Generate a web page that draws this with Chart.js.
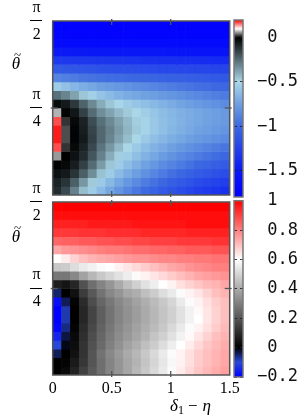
<!DOCTYPE html>
<html>
<head>
<meta charset="utf-8">
<script src="https://cdn.jsdelivr.net/npm/chart.js@4.4.1/dist/chart.umd.min.js"></script>
<style>
  html, body { margin: 0; padding: 0; background: #fff; }
  #wrap { position: relative; width: 306px; height: 419px; }
  #wrap canvas { position: absolute; left: 0; top: 0; }
</style>
</head>
<body>
<div id="wrap">
  <canvas id="heat-top" width="306" height="419"></canvas>
  <canvas id="heat-bot" width="306" height="419"></canvas>
  <canvas id="cb-top" width="306" height="419"></canvas>
  <canvas id="cb-bot" width="306" height="419"></canvas>
</div>
<script>
// --- data ---
// column centres on the δ1 − η axis
const deltaCols = [0.0375, 0.1125, 0.1875, 0.2625, 0.3375, 0.4125, 0.4875, 0.5625, 0.6375, 0.7125,
                   0.7875, 0.8625, 0.9375, 1.0125, 1.0875, 1.1625, 1.2375, 1.3125, 1.3875, 1.4625];
const deltaTicks = [0, 0.5, 1, 1.5];
const thetaTicks = [Math.PI / 4, Math.PI / 2];
const topCbTicks = [0, -0.5, -1, -1.5];
const botCbTicks = [1, 0.8, 0.6, 0.4, 0.2, 0, -0.2];
const topRange = [-1.8, 0.2];
const botRange = [-0.2, 1.0];

// upper map, rows listed from θ = π/2 (top) down to θ = 0
const topMap = [
  [-1.78,-1.78,-1.78,-1.78,-1.78,-1.78,-1.78,-1.78,-1.78,-1.78,-1.78,-1.78,-1.78,-1.78,-1.78,-1.78,-1.78,-1.78,-1.78,-1.78],
  [-1.75,-1.75,-1.75,-1.75,-1.75,-1.75,-1.75,-1.75,-1.75,-1.75,-1.75,-1.75,-1.75,-1.75,-1.75,-1.75,-1.75,-1.75,-1.75,-1.75],
  [-1.68,-1.68,-1.68,-1.68,-1.68,-1.68,-1.68,-1.68,-1.68,-1.68,-1.68,-1.68,-1.68,-1.68,-1.68,-1.68,-1.68,-1.68,-1.68,-1.68],
  [-1.5,-1.5,-1.51,-1.51,-1.52,-1.52,-1.52,-1.53,-1.53,-1.53,-1.54,-1.54,-1.54,-1.55,-1.55,-1.55,-1.56,-1.56,-1.56,-1.57],
  [-1.3,-1.3,-1.31,-1.31,-1.32,-1.32,-1.33,-1.33,-1.34,-1.34,-1.35,-1.35,-1.36,-1.36,-1.37,-1.37,-1.38,-1.38,-1.39,-1.39],
  [-1.1,-1.11,-1.12,-1.13,-1.14,-1.15,-1.16,-1.17,-1.17,-1.18,-1.19,-1.19,-1.2,-1.2,-1.21,-1.21,-1.22,-1.22,-1.23,-1.23],
  [-0.88,-0.9,-0.92,-0.94,-0.96,-0.97,-0.98,-0.99,-1.0,-1.01,-1.02,-1.03,-1.04,-1.05,-1.06,-1.07,-1.08,-1.09,-1.1,-1.11],
  [-0.55,-0.6,-0.65,-0.69,-0.72,-0.75,-0.77,-0.79,-0.81,-0.83,-0.85,-0.87,-0.89,-0.91,-0.93,-0.95,-0.97,-0.98,-1.0,-1.01],
  [-0.26,-0.31,-0.38,-0.46,-0.53,-0.59,-0.63,-0.67,-0.7,-0.72,-0.74,-0.76,-0.78,-0.8,-0.82,-0.84,-0.86,-0.88,-0.9,-0.92],
  [-0.03,-0.06,-0.13,-0.23,-0.32,-0.4,-0.46,-0.51,-0.55,-0.58,-0.61,-0.64,-0.67,-0.7,-0.73,-0.76,-0.78,-0.8,-0.82,-0.84],
  [0.07,-0.01,-0.05,-0.15,-0.25,-0.33,-0.38,-0.43,-0.47,-0.5,-0.54,-0.58,-0.62,-0.65,-0.68,-0.7,-0.72,-0.74,-0.76,-0.78],
  [0.17,0.02,-0.02,-0.08,-0.18,-0.26,-0.32,-0.38,-0.43,-0.48,-0.52,-0.57,-0.61,-0.64,-0.67,-0.7,-0.72,-0.74,-0.76,-0.78],
  [0.19,0.03,-0.01,-0.07,-0.16,-0.24,-0.3,-0.36,-0.42,-0.47,-0.52,-0.57,-0.61,-0.65,-0.68,-0.71,-0.74,-0.76,-0.78,-0.8],
  [0.19,0.03,-0.01,-0.06,-0.15,-0.24,-0.31,-0.38,-0.44,-0.5,-0.56,-0.61,-0.65,-0.69,-0.72,-0.75,-0.78,-0.8,-0.82,-0.85],
  [0.17,0.02,-0.02,-0.08,-0.17,-0.27,-0.35,-0.43,-0.5,-0.56,-0.62,-0.67,-0.71,-0.75,-0.79,-0.82,-0.85,-0.88,-0.91,-0.94],
  [0.06,0.0,-0.04,-0.1,-0.2,-0.3,-0.4,-0.48,-0.55,-0.61,-0.67,-0.72,-0.77,-0.81,-0.85,-0.88,-0.92,-0.95,-0.98,-1.01],
  [0.0,-0.02,-0.07,-0.15,-0.25,-0.36,-0.46,-0.55,-0.62,-0.68,-0.74,-0.79,-0.84,-0.88,-0.92,-0.96,-1.0,-1.03,-1.06,-1.09],
  [-0.04,-0.06,-0.12,-0.22,-0.33,-0.45,-0.55,-0.63,-0.7,-0.76,-0.82,-0.87,-0.92,-0.97,-1.01,-1.05,-1.09,-1.12,-1.15,-1.18],
  [-0.08,-0.12,-0.22,-0.35,-0.47,-0.56,-0.64,-0.72,-0.79,-0.85,-0.91,-0.96,-1.01,-1.06,-1.1,-1.14,-1.18,-1.21,-1.24,-1.27],
  [-0.1,-0.17,-0.3,-0.44,-0.55,-0.63,-0.72,-0.8,-0.87,-0.93,-0.99,-1.04,-1.09,-1.14,-1.18,-1.22,-1.26,-1.29,-1.32,-1.35]
];

// lower map, same layout
const botMap = [
  [1.0,1.0,1.0,1.0,1.0,1.0,1.0,1.0,1.0,1.0,1.0,1.0,1.0,1.0,1.0,1.0,1.0,1.0,1.0,1.0],
  [0.98,0.98,0.98,0.98,0.98,0.98,0.98,0.98,0.98,0.98,0.98,0.98,0.98,0.98,0.98,0.98,0.98,0.98,0.98,0.98],
  [0.95,0.95,0.95,0.95,0.96,0.96,0.96,0.96,0.96,0.97,0.97,0.97,0.97,0.97,0.97,0.98,0.98,0.98,0.98,0.98],
  [0.91,0.91,0.91,0.92,0.92,0.92,0.93,0.93,0.93,0.93,0.94,0.94,0.94,0.94,0.94,0.95,0.95,0.95,0.95,0.95],
  [0.84,0.85,0.85,0.86,0.86,0.87,0.87,0.88,0.88,0.89,0.89,0.9,0.9,0.9,0.91,0.91,0.91,0.91,0.92,0.92],
  [0.74,0.76,0.77,0.78,0.79,0.8,0.81,0.81,0.82,0.83,0.83,0.84,0.84,0.85,0.85,0.86,0.86,0.86,0.87,0.87],
  [0.6,0.63,0.67,0.7,0.72,0.73,0.74,0.75,0.76,0.77,0.77,0.78,0.79,0.79,0.8,0.8,0.81,0.81,0.82,0.82],
  [0.47,0.48,0.52,0.55,0.57,0.59,0.6,0.62,0.64,0.66,0.68,0.7,0.72,0.74,0.75,0.77,0.78,0.79,0.8,0.8],
  [0.28,0.28,0.32,0.38,0.43,0.47,0.5,0.53,0.56,0.59,0.62,0.64,0.66,0.68,0.7,0.72,0.74,0.75,0.76,0.77],
  [0.07,0.05,0.09,0.19,0.26,0.31,0.35,0.4,0.45,0.49,0.53,0.56,0.6,0.62,0.65,0.67,0.69,0.71,0.72,0.74],
  [-0.05,0.0,0.04,0.14,0.21,0.27,0.32,0.35,0.39,0.41,0.45,0.48,0.52,0.55,0.59,0.62,0.64,0.67,0.7,0.72],
  [-0.18,-0.04,0.01,0.1,0.18,0.24,0.28,0.32,0.35,0.38,0.41,0.44,0.47,0.5,0.55,0.59,0.62,0.65,0.68,0.7],
  [-0.2,-0.08,0.0,0.09,0.16,0.22,0.27,0.31,0.34,0.37,0.4,0.43,0.46,0.49,0.53,0.57,0.61,0.64,0.67,0.7],
  [-0.2,-0.08,0.0,0.09,0.16,0.22,0.27,0.31,0.34,0.37,0.4,0.43,0.46,0.49,0.53,0.57,0.6,0.64,0.67,0.7],
  [-0.19,-0.06,0.01,0.1,0.17,0.23,0.28,0.32,0.35,0.38,0.41,0.44,0.47,0.51,0.55,0.59,0.62,0.65,0.68,0.71],
  [-0.15,-0.03,0.02,0.11,0.18,0.24,0.29,0.33,0.36,0.39,0.42,0.46,0.49,0.53,0.57,0.61,0.64,0.67,0.7,0.72],
  [-0.1,-0.01,0.03,0.12,0.19,0.25,0.3,0.34,0.38,0.41,0.45,0.48,0.52,0.56,0.6,0.63,0.66,0.69,0.71,0.73],
  [-0.04,0.0,0.04,0.12,0.2,0.27,0.32,0.36,0.4,0.43,0.47,0.51,0.55,0.59,0.62,0.65,0.68,0.7,0.72,0.74],
  [0.0,0.01,0.06,0.13,0.2,0.26,0.31,0.35,0.39,0.42,0.46,0.5,0.54,0.58,0.62,0.65,0.68,0.7,0.72,0.74],
  [0.0,0.02,0.08,0.15,0.21,0.26,0.31,0.35,0.39,0.43,0.47,0.51,0.55,0.59,0.63,0.66,0.69,0.71,0.73,0.75]
];

// --- palettes (value -> rgb) ---
const topStops = [
  [-1.8, [0, 0, 255]], [-1.5, [10, 25, 245]], [-1.0, [60, 105, 225]], [-0.75, [110, 160, 225]],
  [-0.5, [170, 215, 232]], [0, [0, 0, 0]], [0.1, [255, 255, 255]], [0.2, [255, 0, 0]]
];
const botStops = [
  [-0.2, [0, 0, 255]], [-0.1, [40, 72, 216]], [0, [0, 0, 0]], [0.6, [255, 255, 255]], [1.0, [255, 0, 0]]
];

function colorAt(stops, v) {
  if (v <= stops[0][0]) return rgb(stops[0][1]);
  for (let i = 1; i < stops.length; i++) {
    const [v1, c1] = stops[i];
    if (v <= v1) {
      const [v0, c0] = stops[i - 1];
      const t = (v - v0) / (v1 - v0);
      return rgb(c0.map((c, k) => c + (c1[k] - c) * t));
    }
  }
  return rgb(stops[stops.length - 1][1]);
}
function rgb(c) { return `rgb(${c.map(Math.round).join(',')})`; }

const W = 306, H = 419;
const SERIF = "'Liberation Serif','DejaVu Serif',serif";

// --- frame, inward ticks and extra labels ---
const framePlugin = {
  id: 'frame',
  afterDraw(chart, args, o) {
    const { ctx, chartArea: a } = chart;
    const line = (x1, y1, x2, y2) => { ctx.beginPath(); ctx.moveTo(x1, y1); ctx.lineTo(x2, y2); ctx.stroke(); };
    ctx.save();
    ctx.strokeStyle = o.color;
    ctx.lineWidth = o.width;
    ctx.strokeRect(a.left, a.top, a.width, a.height);
    if (o.inTicks) {
      ctx.lineWidth = 1.3;
      deltaTicks.filter(v => v > 0 && v < 1.5).forEach(v => {
        const x = chart.scales.xt.getPixelForValue(v);
        line(x, a.top - 2, x, a.top + 4);
        line(x, a.bottom + 2, x, a.bottom - 4);
      });
      thetaTicks.filter(v => v < Math.PI / 2).forEach(v => {
        const y = chart.scales.y.getPixelForValue(v);
        line(a.left - 2, y, a.left + 5, y);
        line(a.right + 2, y, a.right - 5, y);
      });
      // fraction bars of the π/n labels
      ctx.strokeStyle = '#000';
      ctx.lineWidth = 1;
      thetaTicks.forEach(v => {
        const y = Math.round(chart.scales.y.getPixelForValue(v)) - 0.5;
        line(30, y, 42, y);
      });
      ctx.fillStyle = '#000';
      ctx.textAlign = 'center';
      ctx.textBaseline = 'middle';
      ctx.font = `italic 17px ${SERIF}`;
      ctx.fillText('θ', 16, o.thetaY + 2);
      ctx.font = `13px ${SERIF}`;
      ctx.fillText('~', 17.5, o.thetaY - 7);
    }
    if (o.xLabel) {
      ctx.fillStyle = '#000';
      ctx.textAlign = 'left';
      ctx.textBaseline = 'alphabetic';
      let x = 170;
      const by = 411;
      ctx.font = `italic 17px ${SERIF}`;
      ctx.fillText('δ', x, by); x += ctx.measureText('δ').width;
      ctx.font = `12px ${SERIF}`;
      ctx.fillText('1', x, by + 3); x += ctx.measureText('1').width + 4;
      ctx.font = `17px ${SERIF}`;
      ctx.fillText('−', x, by); x += ctx.measureText('−').width + 5;
      ctx.font = `italic 17px ${SERIF}`;
      ctx.fillText('η', x, by);
    }
    ctx.restore();
  }
};

// --- heat map: one floating-bar dataset per θ row ---
function rowDatasets(rows, stops) {
  const n = rows.length;
  const dTheta = (Math.PI / 2) / n;
  return rows.map((vals, r) => {
    const k = n - 1 - r;
    return {
      xAxisID: 'x',
      yAxisID: 'y',
      data: vals.map(() => [k * dTheta, (k + 1) * dTheta]),
      backgroundColor: vals.map(v => colorAt(stops, v)),
      borderWidth: 0,
      grouped: false,
      barPercentage: 1,
      categoryPercentage: 1
    };
  });
}

function heatChart(id, rows, stops, box, showX, thetaY) {
  return new Chart(document.getElementById(id), {
    type: 'bar',
    data: { labels: deltaCols, datasets: rowDatasets(rows, stops) },
    options: {
      responsive: false,
      animation: false,
      events: [],
      layout: { padding: { left: 0, top: box.top, right: W - box.right, bottom: showX ? 0 : H - box.bottom } },
      plugins: {
        legend: { display: false },
        tooltip: { enabled: false },
        frame: { color: '#555', width: 1.5, inTicks: true, thetaY: thetaY, xLabel: showX }
      },
      scales: {
        x: { display: false, offset: true },
        xt: {
          type: 'linear', position: 'bottom', min: 0, max: 1.5, display: showX, offset: false,
          afterBuildTicks: s => { s.ticks = deltaTicks.map(v => ({ value: v })); },
          afterFit: s => {
            if (showX) s.height = H - box.bottom;
            s.paddingLeft = 0; s.paddingRight = 0;
          },
          grid: { display: false, drawTicks: false, offset: false },
          border: { display: false },
          ticks: { padding: 4, color: '#000', maxRotation: 0, font: { family: SERIF, size: 16 }, callback: v => String(v) }
        },
        y: {
          type: 'linear', position: 'left', min: 0, max: Math.PI / 2,
          afterBuildTicks: s => { s.ticks = thetaTicks.map(v => ({ value: v })); },
          afterFit: s => { s.width = box.left; s.paddingTop = 0; s.paddingBottom = 0; },
          grid: { display: false, drawTicks: false },
          border: { display: false },
          ticks: {
            crossAlign: 'center', padding: 12, color: '#000',
            font: { family: SERIF, size: 16, lineHeight: 0.85 },
            callback: v => ['π', '', Math.abs(v - Math.PI / 4) < 1e-6 ? '4' : '2']
          }
        }
      }
    },
    plugins: [framePlugin]
  });
}

// --- colour bar: a single floating bar filled with the palette ---
function fmtCb(v) {
  const a = Math.round(Math.abs(v) * 10) / 10;
  return (v < -1e-9 ? '−' : ' ') + String(a);
}

function cbChart(id, range, stops, ticks, box) {
  const [lo, hi] = range;
  return new Chart(document.getElementById(id), {
    type: 'bar',
    data: {
      labels: [''],
      datasets: [{
        data: [[lo, hi]],
        backgroundColor: c => {
          const y = c.chart.scales.y;
          const y0 = y ? y.getPixelForValue(lo) : NaN;
          const y1 = y ? y.getPixelForValue(hi) : NaN;
          if (!isFinite(y0) || !isFinite(y1)) return 'rgba(0,0,0,0)';
          const g = c.chart.ctx.createLinearGradient(0, y0, 0, y1);
          stops.forEach(([v, col]) => g.addColorStop(Math.min(1, Math.max(0, (v - lo) / (hi - lo))), rgb(col)));
          return g;
        },
        borderWidth: 0,
        barPercentage: 1,
        categoryPercentage: 1
      }]
    },
    options: {
      responsive: false,
      animation: false,
      events: [],
      layout: { padding: { left: box.left, top: box.top, right: 0, bottom: H - box.bottom } },
      plugins: {
        legend: { display: false },
        tooltip: { enabled: false },
        frame: { color: '#777', width: 1.5 }
      },
      scales: {
        x: { display: false },
        y: {
          position: 'right', min: lo, max: hi,
          afterBuildTicks: s => { s.ticks = ticks.map(v => ({ value: v })); },
          afterFit: s => { s.width = W - box.right; s.paddingTop = 0; s.paddingBottom = 0; },
          grid: { drawTicks: false, color: 'rgba(30,30,40,0.85)', lineWidth: 1, z: 1 },
          border: { display: false, dash: [3, 3] },
          ticks: {
            padding: 14, color: '#111',
            font: { family: "'DejaVu Sans Mono',monospace", size: 17 },
            callback: v => fmtCb(v)
          }
        }
      }
    },
    plugins: [framePlugin]
  });
}

heatChart('heat-top', topMap, topStops, { left: 52.7, right: 229.7, top: 21, bottom: 195 }, false, 63);
heatChart('heat-bot', botMap, botStops, { left: 52.7, right: 229.7, top: 202, bottom: 375 }, true, 236);
cbChart('cb-top', topRange, topStops, topCbTicks, { left: 234, right: 243, top: 20, bottom: 197 });
cbChart('cb-bot', botRange, botStops, botCbTicks, { left: 234, right: 243, top: 200.7, bottom: 377 });
</script>
</body>
</html>
